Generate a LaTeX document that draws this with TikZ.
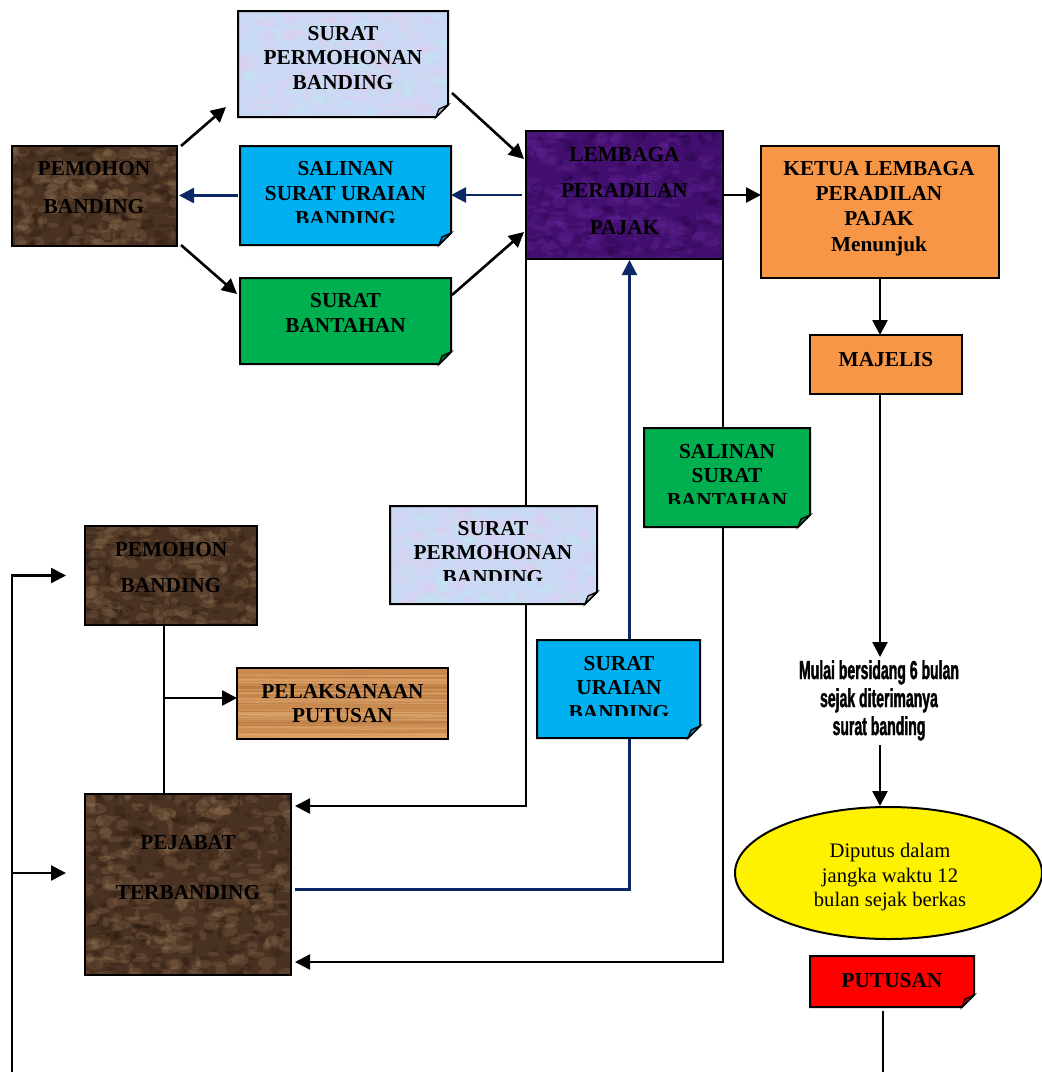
\documentclass[tikz,border=0pt]{standalone}
\usepackage{fontspec}
\setmainfont{Liberation Serif}
\newfontfamily\narrowsans[FakeStretch=0.54, FakeBold=1.4]{Liberation Sans Bold}
\usetikzlibrary{arrows.meta,shapes.geometric,calc,backgrounds}

\definecolor{navyline}{HTML}{0C2866}
\definecolor{cyanbox}{HTML}{00B0F0}
\definecolor{greenbox}{HTML}{00B050}
\definecolor{orangebox}{HTML}{F79646}
\definecolor{redbox}{HTML}{FF0000}
\definecolor{brownbase}{HTML}{4A3222}
\definecolor{brownlight}{HTML}{9C7D5A}
\definecolor{browndark}{HTML}{24160C}
\definecolor{purplebase}{HTML}{420F70}
\definecolor{purplelight}{HTML}{6C2BA2}
\definecolor{purpledark}{HTML}{240544}
\definecolor{paperbase}{HTML}{CBD8F3}
\definecolor{paperpink}{HTML}{E8C8F0}
\definecolor{papercyan}{HTML}{BDEEF3}
\definecolor{woodbase}{HTML}{C98A4F}
\definecolor{woodlight}{HTML}{E2AA70}
\definecolor{wooddark}{HTML}{A06432}

\tikzset{
  slot/.style={anchor=north west, inner sep=0pt, outer sep=0pt},
  boxline/.style={draw=black, line width=2pt},
  boxtext/.style={anchor=north, inner sep=0pt, align=center,
    font=\fontsize{21.3}{24.5}\selectfont\bfseries},
  link/.style={draw=black, line width=2.6pt},
  arr/.style={link, -{Triangle[length=15pt,width=15pt]}},
  navyarr/.style={draw=navyline, line width=2.6pt, -{Triangle[length=15pt,width=15pt]}},
  rectpath/.style={insert path={(#1.north west) rectangle (#1.south east)}},
  foldpath/.style={insert path={(#1.north west) -- (#1.north east)
    -- ([yshift=12pt]#1.south east) -- ([xshift=-12pt]#1.south east)
    -- (#1.south west) -- cycle}},
}

% mottled stone / paper surface, clipped to the outline of a box
\newcommand\mottled[7]{%
  \begin{scope}
    \path[clip, #7=#1];
    \foreach \k in {1,...,#6}{%
      \fill[#4, opacity=.22] ($(#1.north west)+({rnd*#2},{rnd*#3})$)
        ellipse[x radius={2+rnd*8}, y radius={1.5+rnd*5}];
      \fill[#5, opacity=.25] ($(#1.north west)+({rnd*#2},{rnd*#3})$)
        ellipse[x radius={1.5+rnd*6}, y radius={1+rnd*4}];
    }
  \end{scope}}

% wood grain streaks
\newcommand\woodgrain[3]{%
  \begin{scope}
    \path[clip, rectpath=#1];
    \foreach \k in {1,...,30}{%
      \pgfmathsetmacro\wa{0.5+rnd*2}
      \pgfmathsetmacro\wb{0.3+rnd*1.2}
      \draw[woodlight, opacity=.6, line width=\wa pt]
        ($(#1.north west)+(0,{rnd*#3})$) -- ++(#2,{rnd*3-1.5});
      \draw[wooddark, opacity=.35, line width=\wb pt]
        ($(#1.north west)+(0,{rnd*#3})$) -- ++(#2,{rnd*3-1.5});
    }
  \end{scope}}

% turned-up corner of a note box
\newcommand\docflap[2]{%
  \filldraw[fill=#2, draw=black, line width=1.3pt]
    ([xshift=-12pt]#1.south east) -- ([xshift=-9pt,yshift=8pt]#1.south east)
    -- ([yshift=12pt]#1.south east) -- cycle;}

\begin{document}
\begin{tikzpicture}[x=1pt,y=-1pt]
\useasboundingbox (0,0) rectangle (1042,1072);
\pgfmathsetseed{42}

% ---------- box frames ----------
\node[slot, minimum width=165pt, minimum height=100pt] (pem1) at (12,146) {};
\node[slot, minimum width=210pt, minimum height=106pt] (spb1) at (238,11) {};
\node[slot, minimum width=211pt, minimum height=99pt]  (sal1) at (240,146) {};
\node[slot, minimum width=211pt, minimum height=86pt]  (ban1) at (240,278) {};
\node[slot, minimum width=197pt, minimum height=128pt] (lem)  at (526,131) {};
\node[slot, minimum width=238pt, minimum height=132pt] (ketua) at (761,146) {};
\node[slot, minimum width=152pt, minimum height=59pt]  (maj)  at (810,335) {};
\node[slot, minimum width=166pt, minimum height=99pt]  (salb) at (644,428) {};
\node[slot, minimum width=207pt, minimum height=98pt]  (spb2) at (390,506) {};
\node[slot, minimum width=172pt, minimum height=99pt]  (pem2) at (85,526) {};
\node[slot, minimum width=211pt, minimum height=71pt]  (pel)  at (237,668) {};
\node[slot, minimum width=163pt, minimum height=98pt]  (sur)  at (537,640) {};
\node[slot, minimum width=206pt, minimum height=181pt] (pej)  at (85,794) {};
\node[slot, minimum width=164pt, minimum height=51pt]  (put)  at (810,956) {};
\node[ellipse, boxline, fill=yellow, inner sep=0pt,
      minimum width=307pt, minimum height=132pt] (ell) at (888.5,873) {};

% ---------- stone-textured boxes ----------
\fill[brownbase, rectpath=pem1];
\mottled{pem1}{165}{100}{brownlight}{browndark}{160}{rectpath}
\draw[boxline, rectpath=pem1];

\fill[brownbase, rectpath=pem2];
\mottled{pem2}{172}{99}{brownlight}{browndark}{160}{rectpath}
\draw[boxline, rectpath=pem2];

\fill[brownbase, rectpath=pej];
\mottled{pej}{206}{181}{brownlight}{browndark}{300}{rectpath}
\draw[boxline, rectpath=pej];

\fill[purplebase, rectpath=lem];
\mottled{lem}{197}{128}{purplelight}{purpledark}{200}{rectpath}
\draw[boxline, rectpath=lem];

\fill[woodbase, rectpath=pel];
\woodgrain{pel}{211}{71}
\draw[boxline, rectpath=pel];

% ---------- paper-textured notes ----------
\fill[paperbase, foldpath=spb1];
\mottled{spb1}{210}{106}{paperpink}{papercyan}{160}{foldpath}
\draw[boxline, foldpath=spb1];
\docflap{spb1}{gray!50}

\fill[paperbase, foldpath=spb2];
\mottled{spb2}{207}{98}{paperpink}{papercyan}{160}{foldpath}
\draw[boxline, foldpath=spb2];
\docflap{spb2}{gray!50}

% ---------- plain coloured boxes ----------
\filldraw[fill=cyanbox, boxline, foldpath=sal1];  \docflap{sal1}{cyanbox!75!black}
\filldraw[fill=greenbox, boxline, foldpath=ban1]; \docflap{ban1}{greenbox!75!black}
\filldraw[fill=greenbox, boxline, foldpath=salb]; \docflap{salb}{greenbox!75!black}
\filldraw[fill=cyanbox, boxline, foldpath=sur];   \docflap{sur}{cyanbox!75!black}
\filldraw[fill=redbox, boxline, foldpath=put];    \docflap{put}{redbox!75!black}
\filldraw[fill=orangebox, boxline, rectpath=ketua];
\filldraw[fill=orangebox, boxline, rectpath=maj];

% ---------- texts ----------
\node[boxtext] (spb1-t) at (343,26) {SURAT\\PERMOHONAN\\BANDING};
\node[boxtext, font=\fontsize{21.3}{38}\selectfont\bfseries] (pem1-t) at (94,161) {PEMOHON\\BANDING};
\begin{scope}
  \clip (sal1.north west) rectangle ($(sal1.south east)+(0,-23)$);
  \node[boxtext, font=\fontsize{21.3}{25}\selectfont\bfseries] (sal1-t) at (345.5,161) {SALINAN\\SURAT URAIAN\\BANDING};
\end{scope}
\node[boxtext, font=\fontsize{21.3}{25}\selectfont\bfseries] (ban1-t) at (345.5,293) {SURAT\\BANTAHAN};
\node[boxtext, font=\fontsize{21.3}{36.5}\selectfont\bfseries] (lem-t) at (624.5,147) {LEMBAGA\\PERADILAN\\PAJAK};
\node[boxtext, font=\fontsize{21.3}{25.3}\selectfont\bfseries] (ketua-t) at (879,161) {KETUA LEMBAGA\\PERADILAN\\PAJAK\\Menunjuk};
\node[boxtext] (maj-t) at (886,352) {MAJELIS};
\begin{scope}
  \clip (salb.north west) rectangle ($(salb.south east)+(0,-24)$);
  \node[boxtext] (salb-t) at (727,444) {SALINAN\\SURAT\\BANTAHAN};
\end{scope}
\begin{scope}
  \clip (spb2.north west) rectangle ($(spb2.south east)+(0,-24)$);
  \node[boxtext] (spb2-t) at (493,521) {SURAT\\PERMOHONAN\\BANDING};
\end{scope}
\node[boxtext, font=\fontsize{21.3}{36}\selectfont\bfseries] (pem2-t) at (171,542) {PEMOHON\\BANDING};
\node[boxtext, font=\fontsize{21.3}{24}\selectfont\bfseries] (pel-t) at (342.5,684) {PELAKSANAAN\\PUTUSAN};
\begin{scope}
  \clip (sur.north west) rectangle ($(sur.south east)+(0,-23)$);
  \node[boxtext] (sur-t) at (619,656) {SURAT\\URAIAN\\BANDING};
\end{scope}
\node[boxtext, font=\fontsize{21.3}{50}\selectfont\bfseries] (pej-t) at (188,835) {PEJABAT\\TERBANDING};
\node[boxtext] (put-t) at (892,973) {PUTUSAN};
\node[anchor=north, inner sep=0pt, align=center,
      font=\narrowsans\fontsize{26}{28}\selectfont] (mulai) at (879,660)
      {Mulai bersidang 6 bulan\\sejak diterimanya\\surat banding};
\node[anchor=north, inner sep=0pt, align=center,
      font=\fontsize{20.6}{24.5}\selectfont] (ell-t) at (890,843)
      {Diputus dalam\\jangka waktu 12\\bulan sejak berkas};

% ---------- connectors (behind the boxes) ----------
\begin{scope}[on background layer]
  \fill[white] (0,0) rectangle (1042,1072);
  \draw[arr] ($(pem1.north east)+(4,0)$) -- ($(spb1.south west)+(-12,-10)$);
  \draw[arr] ($(pem1.south east)+(4,-1)$) -- ($(ban1.north west)+(-3,16)$);
  \draw[arr] ($(spb1.south east)+(4,-24)$) -- ($(lem.north west)+(-2,28)$);
  \draw[arr] ($(ban1.north east)+(1,17)$) -- ($(lem.south west)+(-2,-27)$);
  \draw[navyarr] ($(lem.west)+(-4,0)$) -- (lem.west -| sal1.east);
  \draw[navyarr] ($(sal1.west)+(-2,0)$) -- ($(sal1.west -| pem1.east)+(2,0)$);
  \draw[arr] (lem.east) -- (lem.east -| ketua.west);
  \draw[arr] (ketua.south) -- (ketua.south |- maj.north);
  \draw[arr] (ketua.south |- maj.south) -- ($(ketua.south |- mulai.north)+(0,-3)$);
  \draw[arr] ($(ketua.south |- mulai.south)+(0,4)$) -- (ketua.south |- ell.north);
  \coordinate (tail) at (883,1072);
  \draw[link] ($(put.south -| tail)+(0,4)$) -- (tail);
  \coordinate (loopend) at (12,1072);
  \coordinate (loopj) at (12,873);
  \draw[arr] (loopend) |- ($(pem2.west)+(-19,0)$);
  \draw[arr] (loopj) -- ($(loopj)+(54,0)$);
  \draw[arr, line width=2.3pt] (lem.south west) |- ($(pej.north east)+(4,12)$);
  \draw[arr, line width=2.3pt] (lem.south east) |- ($(pej.south east)+(4,-13)$);
  \draw[navyarr, line width=2.2pt] ($(pej.east)+(4,5)$) -| ($(lem.south)+(5,1)$);
  \coordinate (trunk) at (164,698);
  \draw[link, line width=2.3pt] (trunk |- pem2.south) -- (trunk |- pej.north);
  \draw[arr] (trunk) -- (trunk -| pel.west);
\end{scope}
\end{tikzpicture}
\end{document}
